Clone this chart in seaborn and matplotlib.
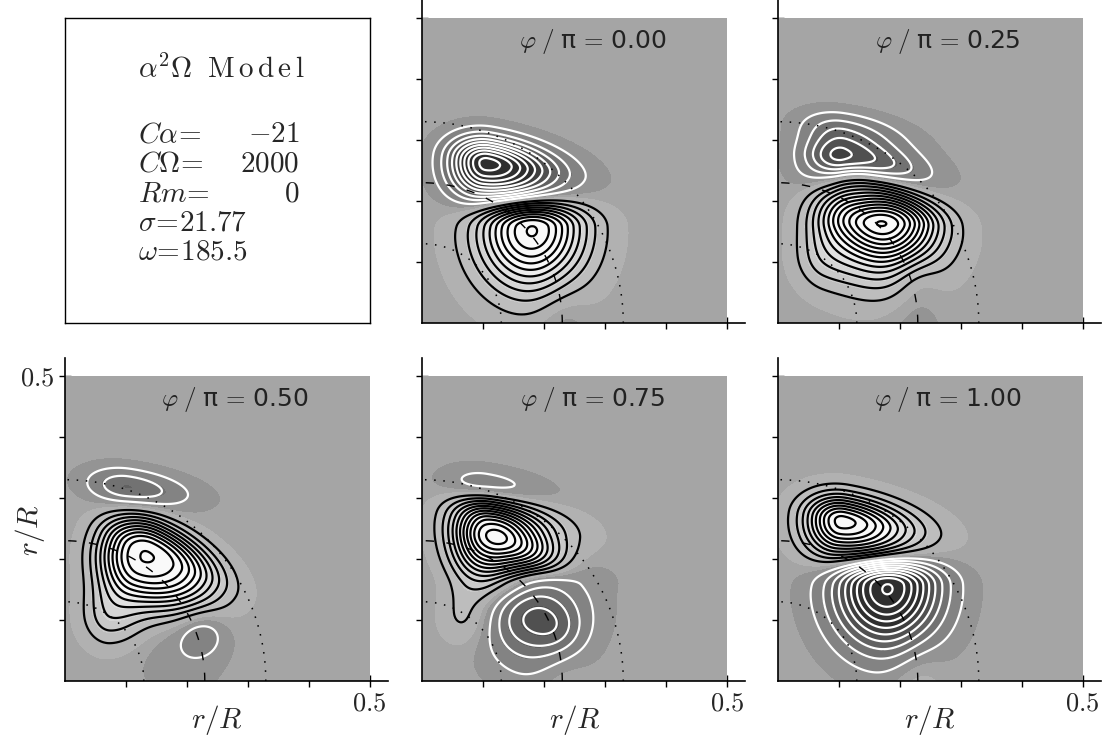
import numpy as np
import pandas as pd
import seaborn as sns
import matplotlib.pyplot as plt
from matplotlib.colors import LinearSegmentedColormap

sns.set_style("ticks")
plt.rcParams['mathtext.fontset'] = 'cm'
plt.rcParams['font.family'] = ['DejaVu Sans']

# phases shown in the five panels (phi/pi)
phases = [0.00, 0.25, 0.50, 0.75, 1.00]

# field at phi/pi = 0, as lopsided blobs
# (amplitude, centre, widths left/right/down/up, tilt in degrees, flatness)
cos_amp = [-0.95, 0.95, -0.075]
cos_x0 = [0.106, 0.180, 0.230]
cos_y0 = [0.262, 0.158, 0.000]
cos_sl = [0.041, 0.059, 0.030]
cos_sr = [0.077, 0.058, 0.030]
cos_sd = [0.040, 0.068, 0.060]
cos_su = [0.028, 0.029, 0.060]
cos_tilt = [-10, 0, 0]
cos_pw = [1.0, 1.0, 1.0]

# field at phi/pi = 0.5
sin_amp = [1.00, 0.24, -0.26, -0.14, -0.06]
sin_x0 = [0.135, 0.075, 0.102, 0.225, 0.190]
sin_y0 = [0.207, 0.110, 0.318, 0.081, 0.040]
sin_sl = [0.053, 0.030, 0.045, 0.028, 0.050]
sin_sr = [0.082, 0.040, 0.070, 0.028, 0.050]
sin_sd = [0.053, 0.035, 0.021, 0.028, 0.050]
sin_su = [0.037, 0.040, 0.021, 0.028, 0.050]
sin_tilt = [-25, 0, -8, 0, 0]
sin_pw = [1.3, 1.0, 1.0, 1.0, 1.0]

# reference circles r = const
dotted_radii = [0.13, 0.33]
dashed_radii = [0.23]

# model parameters for the text panel
param_names = [r'$C\alpha\!=$', r'$C\Omega\!=$', r'$Rm\!=$']
param_values = [r'$-21$', r'$2000$', r'$0$']
extra_lines = [r'$\sigma\!=\!21.77$', r'$\omega\!=\!185.5$']

xs = np.linspace(0, 0.5, 301)
X, Y = np.meshgrid(xs, xs)


def blobs(amp, x0, y0, sl, sr, sd, su, tilt, pw):
    f = np.zeros_like(X)
    for a, cx, cy, l, r, d, u, t, k in zip(amp, x0, y0, sl, sr, sd, su, tilt, pw):
        t = np.deg2rad(t)
        dx, dy = X - cx, Y - cy
        p = dx * np.cos(t) + dy * np.sin(t)
        q = -dx * np.sin(t) + dy * np.cos(t)
        sp = np.where(p < 0, l, r)
        sq = np.where(q < 0, d, u)
        f += a * np.exp(-(0.5 * ((p / sp) ** 2 + (q / sq) ** 2)) ** k)
    return f


F_cos = blobs(cos_amp, cos_x0, cos_y0, cos_sl, cos_sr, cos_sd, cos_su,
              cos_tilt, cos_pw)
F_sin = blobs(sin_amp, sin_x0, sin_y0, sin_sl, sin_sr, sin_sd, sin_su,
              sin_tilt, sin_pw)

cmap = LinearSegmentedColormap.from_list(
    "shade", [(0, "#262626"), (0.5, "#a5a5a5"), (1, "#ffffff")])
shade_levels = np.linspace(-1, 1, 16)
step = 1 / 11.0
pos_levels = step * np.arange(1, 16)
neg_levels = -pos_levels[::-1]

W, H = 1106, 736
unit = 610.0          # pixels per r/R unit
span = 0.53           # axis extends a bit beyond 0.5
fig = plt.figure(figsize=(W / 100, H / 100), dpi=100)

col_x = [64.5, 422, 777.5]
row_y = [413, 55]      # origin height from figure bottom


def make_axes(cx, ry, size):
    return fig.add_axes([cx / W, ry / H, size / W, size / H])


# text panel
tax = make_axes(col_x[0], row_y[0], 0.5 * unit)
tax.set_xticks([])
tax.set_yticks([])
for s in tax.spines.values():
    s.set_visible(True)
    s.set_linewidth(1.0)
    s.set_color("black")
tax.text(0.24, 0.803, r'$\alpha^2\Omega\ \;\mathrm{M\,o\,d\,e\,l}$', fontsize=21,
         va='baseline', ha='left', transform=tax.transAxes)
base = [0.593, 0.497, 0.400, 0.303, 0.207]
for i in range(3):
    tax.text(0.24, base[i], param_names[i], fontsize=21, va='baseline',
             ha='left', transform=tax.transAxes)
    tax.text(0.77, base[i], param_values[i], fontsize=21, va='baseline',
             ha='right', transform=tax.transAxes)
for i, line in enumerate(extra_lines):
    tax.text(0.24, base[3 + i], line, fontsize=21, va='baseline', ha='left',
             transform=tax.transAxes)

slots = [(1, 0), (2, 0), (0, 1), (1, 1), (2, 1)]
ticks = [0.1, 0.2, 0.3, 0.4, 0.5]
theta = np.linspace(0, np.pi / 2, 200)

for phi, (c, r) in zip(phases, slots):
    ax = make_axes(col_x[c], row_y[r], span * unit)
    f = F_cos * np.cos(np.pi * phi) + F_sin * np.sin(np.pi * phi)
    shade = np.sign(f) * np.clip(1.4 * np.abs(f) ** 0.8, 0, 1)
    ax.contourf(X, Y, shade, levels=shade_levels, cmap=cmap, vmin=-1, vmax=1)
    ax.contour(X, Y, f, levels=pos_levels, colors="black", linewidths=1.6,
               linestyles="solid")
    ax.contour(X, Y, f, levels=neg_levels, colors="white", linewidths=1.6,
               linestyles="solid")
    for rad in dotted_radii:
        arc = pd.DataFrame({"x": rad * np.cos(theta), "y": rad * np.sin(theta)})
        sns.lineplot(data=arc, x="x", y="y", sort=False, ax=ax, color="black",
                     linewidth=1.1, linestyle=(0, (1, 5)))
    for rad in dashed_radii:
        arc = pd.DataFrame({"x": rad * np.cos(theta), "y": rad * np.sin(theta)})
        sns.lineplot(data=arc, x="x", y="y", sort=False, ax=ax, color="black",
                     linewidth=1.0, linestyle=(0, (6, 9)))

    ax.set_xlim(0, span)
    ax.set_ylim(0, span)
    ax.set_xlabel("")
    ax.set_ylabel("")
    sns.despine(ax=ax)
    for s in ["left", "bottom"]:
        ax.spines[s].set_linewidth(1.2)
        ax.spines[s].set_color("black")
    ax.set_xticks(ticks)
    ax.set_yticks(ticks)
    ax.tick_params(direction="inout", length=8, width=1.0, color="black",
                   labelsize=19, pad=3)
    if r == 1:
        ax.set_xticklabels(["", "", "", "", r"$0.5$"])
        ax.text(0.25, -0.064, r"$r/R$", fontsize=21, ha="center", va="center",
                clip_on=False)
    else:
        ax.set_xticklabels([])
    if (c, r) == (0, 1):
        ax.set_yticklabels(["", "", "", "", r"$0.5$"])
        fig.text(30 / W, 1 - 530 / H, r"$r/R$", fontsize=21, rotation=90,
                 ha="center", va="center")
    else:
        ax.set_yticklabels([])
    ax.text(0.28, 0.462, r"$\varphi\;/\;$π$\,=\,$%.2f" % phi, fontsize=18,
            ha="center", va="center", color="#222222")

fig.savefig("out.png", dpi=100)
